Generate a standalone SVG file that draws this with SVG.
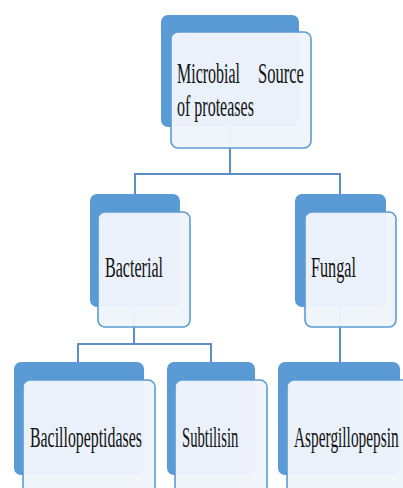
<svg xmlns="http://www.w3.org/2000/svg" width="403" height="488" viewBox="0 0 403 488">
<style>
.back{fill:#5b9bd5;}
.front{fill:#eff4fb;fill-opacity:0.97;stroke:#5b9bd5;stroke-width:1.6;}
.conn{fill:none;stroke:#5b8ec9;stroke-width:2;}
.t{font-family:"Liberation Serif","Times New Roman",serif;font-size:30px;fill:#111111;}
</style>
<rect width="403" height="488" fill="#ffffff"/>
<g id="connectors">
<path class="conn" d="M230,127 V174 M135,174 H340 M135,173 V194 M340,173 V194"/>
<path class="conn" d="M134,307 V344 M78,344 H211 M78,343 V362 M211,343 V362"/>
<path class="conn" d="M340,307 V362"/>
</g>
<g id="node-microbial">
<rect class="back" x="161" y="15" width="138" height="112" rx="7"/>
<rect class="front" x="171" y="32" width="140" height="116" rx="7"/>
<text class="t" transform="translate(177,83) scale(0.533,1)">Microbial</text>
<text class="t" transform="translate(258,83) scale(0.552,1)">Source</text>
<text class="t" transform="translate(177,116) scale(0.534,1)">of proteases</text>
</g>
<g id="node-bacterial">
<rect class="back" x="90" y="194" width="90" height="113" rx="7"/>
<rect class="front" x="98" y="212" width="92" height="115" rx="7"/>
<text class="t" transform="translate(105,277) scale(0.536,1)">Bacterial</text>
</g>
<g id="node-fungal">
<rect class="back" x="295" y="194" width="91" height="113" rx="7"/>
<rect class="front" x="305" y="212" width="91" height="115" rx="7"/>
<text class="t" transform="translate(311,277) scale(0.54,1)">Fungal</text>
</g>
<g id="node-bacillopeptidases">
<rect class="back" x="14" y="362" width="130" height="113" rx="7"/>
<rect class="front" x="23" y="380" width="132" height="125" rx="7"/>
<text class="t" transform="translate(30,447) scale(0.529,1)">Bacillopeptidases</text>
</g>
<g id="node-subtilisin">
<rect class="back" x="167" y="362" width="88" height="113" rx="7"/>
<rect class="front" x="175" y="380" width="92" height="125" rx="7"/>
<text class="t" transform="translate(182,447) scale(0.49,1)">Subtilisin</text>
</g>
<g id="node-aspergillopepsin">
<rect class="back" x="278" y="362" width="122" height="113" rx="7"/>
<rect class="front" x="287" y="380" width="133" height="125" rx="7"/>
<text class="t" transform="translate(294,447) scale(0.512,1)">Aspergillopepsin</text>
</g>
</svg>
